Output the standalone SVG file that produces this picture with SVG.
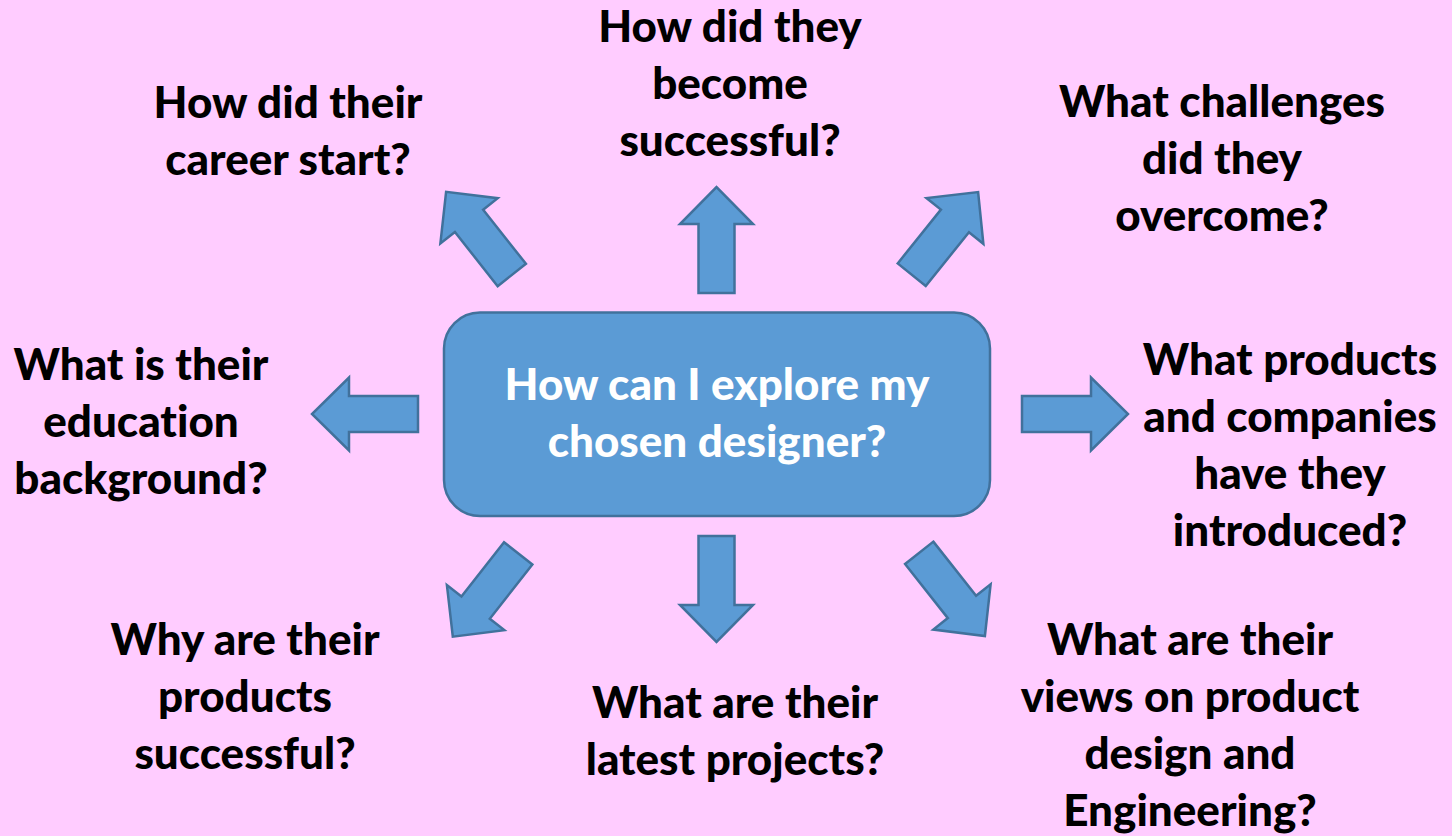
<svg xmlns="http://www.w3.org/2000/svg" width="1452" height="836" viewBox="0 0 1452 836">
<style>
.q{font-family:Lato,"Open Sans","DejaVu Sans",sans-serif;font-weight:900;font-size:44px;fill:#000;text-anchor:middle;font-variant-ligatures:none;font-feature-settings:"liga" 0,"dlig" 0}
.c{font-family:Lato,"Open Sans","DejaVu Sans",sans-serif;font-weight:900;font-size:44px;fill:#fff;text-anchor:middle;font-variant-ligatures:none;font-feature-settings:"liga" 0,"dlig" 0}
.ar{fill:#5B9BD5;stroke:#41719C;stroke-width:2.5;stroke-linejoin:miter}
</style>
<defs>
<polygon id="arrow" points="-18,0 -18,-69 -36.5,-69 0,-106 36.5,-69 18,-69 18,0"/>
</defs>
<rect width="1452" height="836" fill="#FFCCFF"/>
<g id="connectors">
<use href="#arrow" class="ar" transform="translate(716.5,293) rotate(0)"/>
<use href="#arrow" class="ar" transform="translate(511.8,275) rotate(-38.3)"/>
<use href="#arrow" class="ar" transform="translate(911.7,274.7) rotate(38.8)"/>
<use href="#arrow" class="ar" transform="translate(418,414) rotate(-90)"/>
<use href="#arrow" class="ar" transform="translate(1022,414) rotate(90)"/>
<use href="#arrow" class="ar" transform="translate(518.2,553.3) rotate(-141.9)"/>
<use href="#arrow" class="ar" transform="translate(716.5,536) rotate(180)"/>
<use href="#arrow" class="ar" transform="translate(919.2,552.8) rotate(141.7)"/>
</g>
<g id="center">
<rect x="444" y="312.5" width="546" height="203.5" rx="36" ry="36" class="ar"/>
<text class="c" x="717" y="400">How can I explore my</text>
<text class="c" x="717" y="457">chosen designer?</text>
</g>
<g id="career">
<text class="q" x="288" y="118">How did their</text>
<text class="q" x="288" y="175">career start?</text>
</g>
<g id="successful">
<text class="q" x="730" y="42">How did they</text>
<text class="q" x="730" y="99">become</text>
<text class="q" x="730" y="156">successful?</text>
</g>
<g id="challenges">
<text class="q" x="1222" y="117">What challenges</text>
<text class="q" x="1222" y="174">did they</text>
<text class="q" x="1222" y="231">overcome?</text>
</g>
<g id="education">
<text class="q" x="141" y="380">What is their</text>
<text class="q" x="141" y="437">education</text>
<text class="q" x="141" y="494">background?</text>
</g>
<g id="products">
<text class="q" x="1290" y="375">What products</text>
<text class="q" x="1290" y="432">and companies</text>
<text class="q" x="1290" y="489">have they</text>
<text class="q" x="1290" y="546">introduced?</text>
</g>
<g id="why">
<text class="q" x="245" y="655">Why are their</text>
<text class="q" x="245" y="712">products</text>
<text class="q" x="245" y="769">successful?</text>
</g>
<g id="latest">
<text class="q" x="735" y="718">What are their</text>
<text class="q" x="735" y="775">latest projects?</text>
</g>
<g id="views">
<text class="q" x="1190" y="655">What are their</text>
<text class="q" x="1190" y="712">views on product</text>
<text class="q" x="1190" y="769">design and</text>
<text class="q" x="1190" y="826">Engineering?</text>
</g>
</svg>
